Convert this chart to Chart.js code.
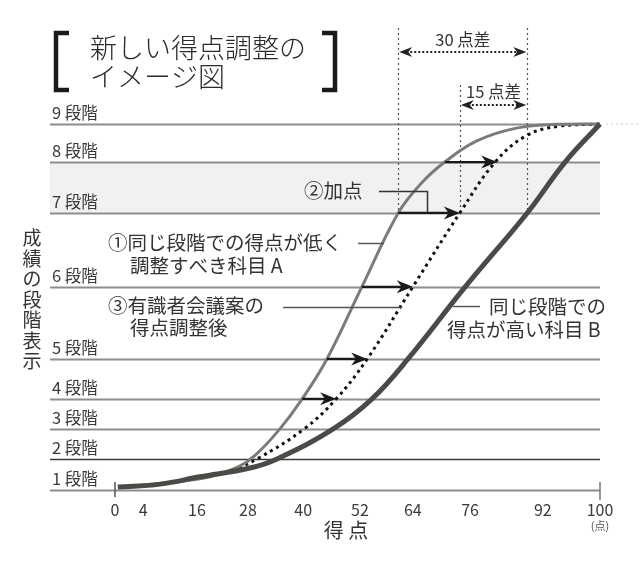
<!DOCTYPE html>
<html lang="ja">
<head>
<meta charset="utf-8">
<title>新しい得点調整のイメージ図</title>
<script src="https://cdn.jsdelivr.net/npm/chart.js@4.4.1/dist/chart.umd.min.js"></script>
<style>
    html, body { margin: 0; padding: 0; background: #fff; }
    #chart { display: block; }
</style>
</head>
<body>
<canvas id="chart" width="640" height="572"></canvas>
<script>
// x axis runs 0..100 in drawing units; labels sit where the picture puts them
const xTickPos = [0, 5.8, 16.9, 27.4, 38.8, 50.5, 61.4, 73.2, 88.2, 100];
const xTickLabels = ['0', '4', '16', '28', '40', '52', '64', '76', '92', '100'];

// stage lines (height in drawing units, 0 = bottom, 100 = top)
const stageNames = ['1 段階', '2 段階', '3 段階', '4 段階', '5 段階', '6 段階', '7 段階', '8 段階', '9 段階'];
const stageLevels = [0, 8.5, 16.7, 24.9, 35.8, 55.5, 75.7, 89.6, 100];

// subject A (low scores for the same stage)
const curveAx = [0.6, 10.3, 19.6, 25.4, 29.0, 34.0, 38.6, 43.7, 50.9, 58.4, 63.3, 68.0, 74.5, 82.5, 91.0, 100];
const curveAy = [0.8, 1.9, 3.6, 6.3, 9.6, 16.7, 24.9, 35.8, 55.5, 75.7, 84.0, 89.6, 95.3, 98.8, 99.9, 100];

// proposal of the expert panel, after adjustment (dotted)
const curveAdjX = [18.6, 23.7, 29.3, 39.0, 45.6, 52.0, 61.4, 71.1, 78.4, 84.8, 91.5, 100];
const curveAdjY = [3.6, 5.2, 8.5, 16.7, 24.9, 35.8, 55.5, 75.7, 89.6, 96.8, 99.4, 100];

// subject B (high scores for the same stage)
const curveBx = [0.6, 9.3, 17.5, 27.8, 33.4, 45.0, 53.0, 60.4, 72.2, 85.0, 92.8, 100];
const curveBy = [0.8, 1.6, 3.6, 6.0, 8.5, 16.7, 24.9, 35.8, 55.5, 75.7, 89.6, 100];

// "加点" arrows from A to the adjusted curve
const arrowStages = [4, 5, 6, 7, 8];
const arrowFromX = [38.6, 43.7, 50.9, 58.4, 68.0];
const arrowToX = [45.6, 52.0, 61.4, 71.1, 78.8];

// where the curves cross 7 段階, and the gaps between them
const guideX = [58.4, 71.1, 85.0];
const gapLabels = ['30 点差', '15 点差'];

const FONT = '"Noto Sans CJK JP", "Noto Sans", sans-serif';
const INK = '#333';

function toPoints(xs, ys) {
    return xs.map((x, i) => ({ x: x, y: ys[i] }));
}

function arrowHead(ctx, x, y, dir, len, half) {
    ctx.beginPath();
    ctx.moveTo(x, y);
    ctx.lineTo(x - dir * len, y - half);
    ctx.lineTo(x - dir * len * 0.7, y);
    ctx.lineTo(x - dir * len, y + half);
    ctx.closePath();
    ctx.fill();
}

function line(ctx, pts, color, width, dash) {
    ctx.save();
    ctx.strokeStyle = color;
    ctx.lineWidth = width;
    ctx.setLineDash(dash || []);
    ctx.beginPath();
    pts.forEach((p, i) => i ? ctx.lineTo(p[0], p[1]) : ctx.moveTo(p[0], p[1]));
    ctx.stroke();
    ctx.restore();
}

function text(ctx, str, x, y, size, align, color, weight) {
    ctx.font = (weight || '400') + ' ' + size + 'px ' + FONT;
    ctx.fillStyle = color || INK;
    ctx.textAlign = align || 'left';
    ctx.textBaseline = 'middle';
    ctx.fillText(str, x, y);
}

// band, stage lines, axis and the crossing guides go under the curves
const backdrop = {
    id: 'backdrop',
    beforeDatasetsDraw(chart) {
        const { ctx, scales: { x, y } } = chart;
        const left = 50, right = x.getPixelForValue(100);
        ctx.save();

        // shaded band between 7 and 8 段階
        const top = y.getPixelForValue(stageLevels[7]);
        const bottom = y.getPixelForValue(stageLevels[6]);
        ctx.fillStyle = '#f1f1f1';
        ctx.fillRect(left, top, right - left, bottom - top);

        stageLevels.forEach((lv, i) => {
            const py = Math.round(y.getPixelForValue(lv)) + 0.5;
            const dark = i === 1;
            line(ctx, [[left, py], [right, py]], dark ? '#3a3a3a' : '#8e8e8e', dark ? 1.6 : 2);
            text(ctx, stageNames[i], 52, py - 12, 16.5, 'left', '#3a3a3a');
        });

        // faint continuation of the top line
        const topY = y.getPixelForValue(100);
        line(ctx, [[right + 6, topY], [640, topY]], '#c8c8c8', 1.2, [2, 3]);

        // ticks at both ends of the score axis
        const baseY = y.getPixelForValue(0);
        line(ctx, [[x.getPixelForValue(0), baseY - 8], [x.getPixelForValue(0), baseY + 7]], '#555', 1.5);
        line(ctx, [[right, baseY - 8], [right, baseY + 10]], '#777', 1.5);

        xTickPos.forEach((v, i) => {
            text(ctx, xTickLabels[i], x.getPixelForValue(v), 510, 16, 'center', '#3a3a3a');
        });

        // vertical guides down to 7 段階
        const guideBottom = y.getPixelForValue(stageLevels[6]);
        const guideTop = [28, 85, 28];
        guideX.forEach((v, i) => {
            const px = Math.round(x.getPixelForValue(v)) + 0.5;
            line(ctx, [[px, guideTop[i]], [px, guideBottom]], '#555', 1.2, [2, 3]);
        });

        ctx.restore();
    }
};

// arrows, gap markers, title and notes go on top
const overlay = {
    id: 'overlay',
    afterDatasetsDraw(chart) {
        const { ctx, scales: { x, y } } = chart;
        ctx.save();
        ctx.fillStyle = '#1a1a1a';

        arrowStages.forEach((s, i) => {
            const py = y.getPixelForValue(stageLevels[s - 1]);
            const x0 = x.getPixelForValue(arrowFromX[i]);
            const x1 = x.getPixelForValue(arrowToX[i]);
            line(ctx, [[x0, py], [x1 - 8, py]], '#1a1a1a', 2.2);
            ctx.fillStyle = '#1a1a1a';
            arrowHead(ctx, x1, py, 1, 16, 6.5);
        });

        // gap markers above the chart
        const gx = guideX.map(v => x.getPixelForValue(v));
        const gaps = [[gx[0], gx[2], 52, 40], [gx[1], gx[2], 105, 92]];
        gaps.forEach((g, i) => {
            line(ctx, [[g[0] + 8, g[2]], [g[1] - 8, g[2]]], '#222', 2, [2, 2]);
            ctx.fillStyle = '#222';
            arrowHead(ctx, g[0] + 1, g[2], -1, 13, 5);
            arrowHead(ctx, g[1] - 1, g[2], 1, 13, 5);
            text(ctx, gapLabels[i], (g[0] + g[1]) / 2, g[3], 16.5, 'center', '#333');
        });

        // title with brackets
        line(ctx, [[69, 33], [56, 33], [56, 90], [69, 90]], '#1a1a1a', 4.5);
        line(ctx, [[322, 33], [335, 33], [335, 90], [322, 90]], '#1a1a1a', 4.5);
        text(ctx, '新しい得点調整の', 90, 48, 27, 'left', '#2a2a2a', '300');
        text(ctx, 'イメージ図', 90, 77, 27, 'left', '#2a2a2a', '300');

        // notes and leader lines
        text(ctx, '②加点', 304, 191, 19.5);
        line(ctx, [[379, 191.5], [427.5, 191.5], [427.5, 212]], '#333', 1.5);

        text(ctx, '①同じ段階での得点が低く', 108, 243, 19.5);
        text(ctx, '調整すべき科目 A', 130, 266, 19.5);
        line(ctx, [[358, 243.5], [384, 243.5]], '#555', 1.5);

        text(ctx, '③有識者会議案の', 108, 306, 19.5);
        text(ctx, '得点調整後', 130, 328, 19.5);
        line(ctx, [[283, 307.5], [402, 307.5]], '#555', 1.5);

        text(ctx, '同じ段階での', 489, 307, 19.5);
        text(ctx, '得点が高い科目 B', 447, 330, 19.5);
        line(ctx, [[453, 306.5], [480, 306.5]], '#555', 1.5);

        // axis titles
        text(ctx, '得 点', 346, 530, 20, 'center', '#333');
        text(ctx, '(点)', 600, 526, 11, 'center', '#555');
        const yTitle = '成績の段階表示';
        for (let i = 0; i < yTitle.length; i++) {
            text(ctx, yTitle[i], 32, 238 + i * 20.5, 19, 'center', '#333');
        }

        ctx.restore();
    }
};

const ctx = document.getElementById('chart').getContext('2d');
const chart = new Chart(ctx, {
    type: 'line',
    data: {
        datasets: [
            {
                label: '同じ段階での得点が高い科目 B',
                data: toPoints(curveBx, curveBy),
                borderColor: '#4b4a46',
                borderWidth: 5,
                pointRadius: 0,
                tension: 0.4,
                clip: false
            },
            {
                label: '同じ段階での得点が低く調整すべき科目 A',
                data: toPoints(curveAx, curveAy),
                borderColor: '#7c7b77',
                borderWidth: 3,
                pointRadius: 0,
                tension: 0.4,
                clip: false
            },
            {
                label: '有識者会議案の得点調整後',
                data: toPoints(curveAdjX, curveAdjY),
                borderColor: '#111',
                borderWidth: 3,
                borderDash: [3, 4],
                pointRadius: 0,
                tension: 0.4,
                clip: false
            }
        ]
    },
    options: {
        responsive: false,
        animation: false,
        layout: { padding: { left: 115, right: 40, top: 124, bottom: 82 } },
        scales: {
            x: { type: 'linear', min: 0, max: 100, display: false },
            y: { type: 'linear', min: 0, max: 100, display: false }
        },
        plugins: {
            legend: { display: false },
            tooltip: { enabled: false }
        }
    },
    plugins: [backdrop, overlay]
});
</script>
</body>
</html>
